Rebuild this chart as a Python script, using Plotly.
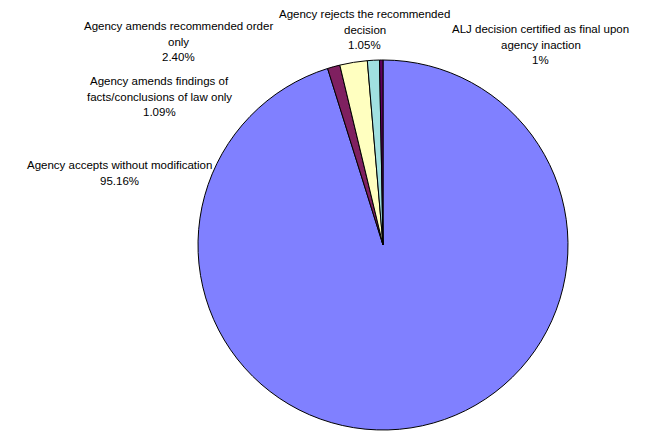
import plotly.graph_objects as go

categories = [
    "Agency accepts without modification",
    "Agency amends findings of facts/conclusions of law only",
    "Agency amends recommended order only",
    "Agency rejects the recommended decision",
    "ALJ decision certified as final upon agency inaction",
]
values = [95.16, 1.09, 2.40, 1.05, 0.30]
pct_labels = ["95.16%", "1.09%", "2.40%", "1.05%", "1%"]
label_lines = [
    ["Agency accepts without modification"],
    ["Agency amends findings of", "facts/conclusions of law only"],
    ["Agency amends recommended order", "only"],
    ["Agency rejects the recommended", "decision"],
    ["ALJ decision certified as final upon", "agency inaction"],
]
colors = ["#8080FF", "#7F2060", "#FFFFC0", "#A0E0E0", "#600060"]

W, H = 660, 432
cx, cy, r = 383, 245, 185

fig = go.Figure(go.Pie(
    labels=categories,
    values=values,
    sort=False,
    direction="clockwise",
    rotation=0,
    textinfo="none",
    hoverinfo="label+percent",
    marker=dict(colors=colors, line=dict(color="#000000", width=1)),
    domain=dict(x=[(cx - r) / W, (cx + r) / W], y=[(H - cy - r) / H, (H - cy + r) / H]),
    showlegend=False,
))

# label anchor centers (pixel positions of the first line's center)
label_pos = [(119.5, 165), (159, 81), (178.5, 26), (365, 14), (540.5, 29)]
line_gap = 15.7
for lines, pct, (lx, ly) in zip(label_lines, pct_labels, label_pos):
    for i, t in enumerate(lines + [pct]):
        fig.add_annotation(
            x=lx / W, y=1 - (ly + i * line_gap) / H,
            xref="paper", yref="paper",
            text=t, showarrow=False,
            xanchor="center", yanchor="middle",
            font=dict(family="Liberation Sans, Arial, sans-serif", size=11.5, color="#000000"),
        )

fig.update_layout(
    width=W, height=H,
    margin=dict(l=0, r=0, t=0, b=0),
    paper_bgcolor="white",
    plot_bgcolor="white",
)

fig.write_html(
    "out.html",
    config={"displayModeBar": False},
    post_script="document.body.style.margin='0';document.body.style.overflow='hidden';",
)
